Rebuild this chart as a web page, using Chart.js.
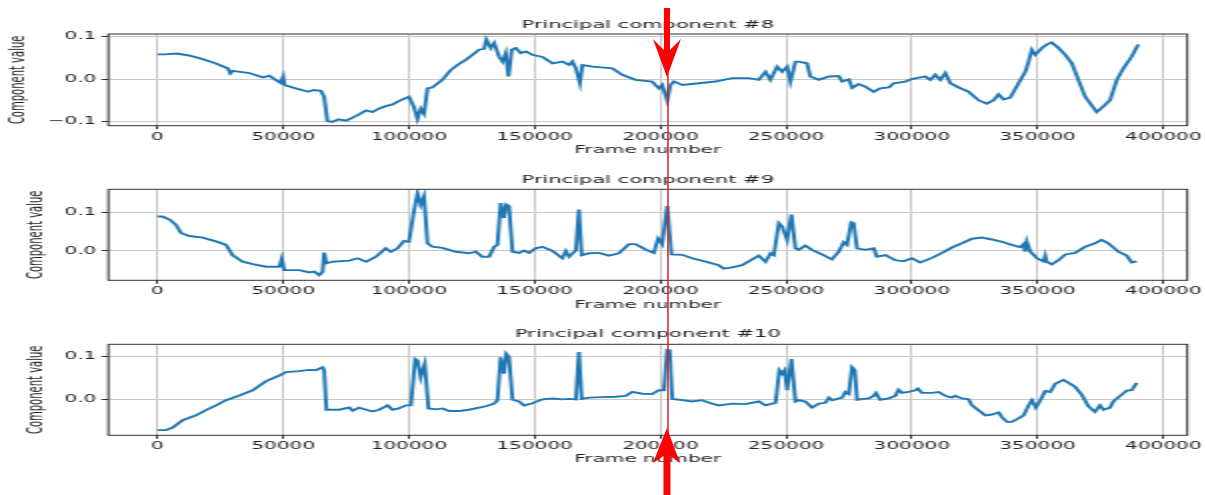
<!DOCTYPE html>
<html>
<head>
<meta charset="utf-8">
<script src="https://cdn.jsdelivr.net/npm/chart.js@4/dist/chart.umd.min.js"></script>
<style>
html,body{margin:0;padding:0;background:#fff;overflow:hidden;width:1205px;height:495px;}
#stage{position:absolute;left:0;top:0;width:603px;height:495px;transform:scaleX(2);transform-origin:0 0;}
#stage canvas{position:absolute;left:0;top:0;}
#overlay{position:absolute;left:0;top:0;pointer-events:none;}
</style>
</head>
<body>
<div id="stage">
  <canvas id="c8" width="603" height="495"></canvas>
  <canvas id="c9" width="603" height="495"></canvas>
  <canvas id="c10" width="603" height="495"></canvas>
</div>
<canvas id="overlay" width="1205" height="495"></canvas>
<script>
// ---------------- data ----------------
const titles = ['Principal component #8', 'Principal component #9', 'Principal component #10'];
const xTitle = 'Frame number';
const yTitle = 'Component value';
const xTicks = [0, 50000, 100000, 150000, 200000, 250000, 300000, 350000, 400000];
const yTicks8 = [-0.1, 0.0, 0.1];
const yTicks9 = [0.0, 0.1];
const yTicks10 = [0.0, 0.1];
const markFrame = 203000;

const frames8 = [0,3000,7500,12000,16700,23000,28000,29000,30000,36500,42000,44500,47000,49000,50000,50500,55000,60000,62000,65000,66300,67600,69500,72000,75000,77600,80000,83000,85500,88000,90800,93500,96000,100000,102000,103400,104700,106000,107400,109300,113300,116600,119300,122600,125300,127900,129900,130800,132600,133900,135800,137200,138500,139600,140900,142500,144500,146500,149100,153100,157100,161000,163700,165000,166400,168000,169000,173000,180900,184800,190100,196700,199400,200700,202700,204000,205400,208700,215300,221900,228500,235200,239100,241800,243700,246400,248400,250400,251700,253700,255000,258300,259600,263000,265000,267000,270900,272300,274900,276300,278800,281500,284800,287400,290800,292800,297400,300000,305300,307300,309300,311300,313300,315300,318600,322500,326500,329800,332500,334500,336400,339100,342400,345100,346400,347700,349000,351700,353600,355600,358300,361000,363600,366200,368900,371500,373500,376200,378800,381500,384100,387400,390000];
const pc8 = [0.058,0.058,0.060,0.056,0.049,0.037,0.025,0.013,0.019,0.014,0.004,0.008,-0.002,-0.009,0.006,-0.014,-0.022,-0.030,-0.026,-0.028,-0.042,-0.099,-0.101,-0.095,-0.098,-0.091,-0.084,-0.074,-0.078,-0.070,-0.064,-0.060,-0.052,-0.042,-0.066,-0.094,-0.070,-0.082,-0.022,-0.020,-0.002,0.021,0.033,0.045,0.057,0.069,0.071,0.093,0.073,0.085,0.053,0.041,0.061,0.006,0.069,0.073,0.061,0.065,0.057,0.052,0.037,0.041,0.033,0.041,0.025,-0.010,0.033,0.029,0.025,0.010,-0.002,-0.006,-0.022,-0.014,-0.050,-0.014,-0.006,-0.014,-0.010,-0.006,0.002,0.002,-0.002,0.017,-0.002,0.029,0.017,0.029,-0.006,0.041,0.041,0.037,0.006,-0.002,0.002,0.006,0.007,-0.006,-0.001,-0.021,-0.012,-0.018,-0.030,-0.022,-0.020,-0.010,-0.006,0.000,0.006,-0.002,0.010,-0.002,0.014,-0.010,-0.020,-0.030,-0.050,-0.058,-0.050,-0.036,-0.048,-0.044,-0.010,0.017,0.041,0.069,0.057,0.073,0.081,0.086,0.073,0.057,0.037,-0.002,-0.042,-0.062,-0.078,-0.064,-0.050,-0.002,0.025,0.053,0.081];

const frames9 = [0,2000,4800,7400,9400,12700,18000,23300,27300,29900,33900,37900,43200,48500,49500,50400,56400,60400,62400,64300,65700,66300,67200,69600,76300,79600,83000,86900,90800,92800,95500,98000,100000,102000,103400,104700,106000,107400,109400,113300,118600,123900,126600,129200,131900,133900,135200,136500,137800,138700,139800,141200,143800,145800,147800,150400,153100,157100,161000,162400,163700,166400,167600,168700,171600,175600,179500,183500,187500,190100,194100,197400,199100,200700,202700,204400,208700,212600,218000,223200,225200,228500,232500,236500,239100,241800,243800,245100,247100,248400,250400,252100,253700,255000,257600,260300,264300,268200,270900,272900,274200,275900,276800,278200,281500,284800,286100,289500,293400,296700,300000,303300,308000,312000,315900,319900,323900,327800,331800,335800,339700,343100,344400,345000,345700,347100,349700,352300,353000,353600,355600,358300,361000,364900,368900,372800,375400,378100,382100,385400,387400,389400];
const pc9 = [0.090,0.090,0.082,0.068,0.047,0.039,0.035,0.025,0.016,-0.011,-0.028,-0.034,-0.041,-0.041,-0.019,-0.050,-0.050,-0.056,-0.054,-0.063,-0.054,-0.004,-0.032,-0.028,-0.025,-0.019,-0.028,-0.015,0.007,-0.002,0.007,0.026,0.024,0.103,0.150,0.121,0.143,0.020,0.011,0.008,-0.002,-0.006,-0.002,-0.015,-0.015,0.011,0.016,0.125,0.086,0.121,0.117,-0.002,-0.005,0.001,-0.005,0.007,0.011,0.000,-0.019,0.000,-0.015,0.002,0.108,-0.011,-0.006,-0.005,-0.012,-0.006,0.018,0.018,0.004,-0.005,0.033,0.018,0.117,-0.009,-0.010,-0.019,-0.028,-0.037,-0.046,-0.043,-0.037,-0.022,-0.012,-0.028,-0.006,-0.011,0.073,0.064,0.029,0.095,0.007,0.003,0.014,0.003,-0.009,-0.022,-0.002,0.023,0.016,0.075,0.073,0.007,0.003,0.007,-0.015,-0.011,-0.024,-0.027,-0.019,-0.030,-0.018,-0.005,0.009,0.020,0.032,0.035,0.030,0.024,0.016,0.010,0.018,-0.002,0.024,-0.002,-0.019,-0.027,-0.012,-0.028,-0.035,-0.024,-0.009,-0.005,0.011,0.020,0.029,0.020,-0.002,-0.012,-0.030,-0.027];

const frames10 = [0,3400,6100,10000,15400,19300,23300,27300,32600,37900,43200,48500,51100,56400,60400,63000,65700,66300,67200,72300,76300,77600,80200,83000,85500,88200,91500,93500,96000,98800,100800,102500,103400,104700,105400,106300,107800,110700,113300,116000,120000,123900,127900,130600,133900,135200,136500,137800,138700,139800,141200,143800,145800,149100,153100,157100,161000,163700,166400,167600,168700,171600,176900,182200,186200,188800,192800,196700,199400,201400,202700,203700,204700,208700,212600,216600,220600,223200,228500,233800,239100,241800,244400,245800,247300,248400,249400,250400,252100,253700,255000,257600,260300,263000,265600,267000,268300,272300,273500,274900,276200,277300,278200,282800,284800,285700,287400,290800,293400,294700,296100,298700,301400,302400,304000,308000,310600,313300,315900,317200,319900,322500,323900,326500,329200,331800,334500,335800,337800,339700,342400,344400,346400,347700,349300,351100,353000,355000,357000,360300,362300,364900,367500,370200,372800,374800,376200,378800,380100,382800,385400,387400,389400];
const pc10 = [-0.071,-0.071,-0.065,-0.048,-0.037,-0.025,-0.014,-0.002,0.009,0.021,0.042,0.055,0.063,0.065,0.068,0.067,0.074,0.067,-0.024,-0.024,-0.019,-0.026,-0.019,-0.024,-0.028,-0.024,-0.014,-0.024,-0.021,-0.014,-0.014,0.093,0.090,0.051,0.066,0.082,-0.021,-0.023,-0.021,-0.027,-0.027,-0.024,-0.019,-0.016,-0.010,-0.002,0.097,0.059,0.105,0.097,-0.001,-0.005,-0.014,-0.009,0.000,0.002,0.000,0.001,0.000,0.109,0.001,0.004,0.005,0.006,0.008,0.017,0.013,0.012,0.021,0.021,0.114,0.113,0.001,-0.002,-0.005,-0.002,-0.010,-0.014,-0.010,-0.011,-0.005,-0.014,-0.010,-0.008,0.067,0.059,0.067,0.021,0.093,-0.005,-0.002,-0.005,-0.019,-0.010,-0.008,0.004,-0.002,0.004,0.017,0.012,0.074,0.067,-0.001,0.002,0.008,0.015,-0.001,0.002,0.008,0.022,0.015,0.017,0.021,0.025,0.015,0.015,0.017,0.008,0.004,0.008,0.002,0.000,-0.014,-0.025,-0.037,-0.035,-0.030,-0.041,-0.052,-0.052,-0.044,-0.037,-0.014,-0.002,-0.019,-0.002,0.019,0.017,0.036,0.045,0.038,0.029,0.011,-0.016,-0.029,-0.014,-0.024,-0.019,-0.005,0.008,0.020,0.021,0.038];

// ---------------- rendering ----------------
const STRETCH = 2;          // horizontal stretch of the figure
const X_MIN = -19500, X_MAX = 409500;
Chart.defaults.font.family = "'DejaVu Sans', sans-serif";
Chart.defaults.font.size = 10;
Chart.defaults.color = '#222';

const framePlugin = {
  id: 'frame',
  afterDatasetsDraw(chart) {
    const {ctx, chartArea: a} = chart;
    ctx.save();
    ctx.strokeStyle = '#333';
    ctx.lineWidth = 1;
    ctx.strokeRect(a.left, a.top, a.right - a.left, a.bottom - a.top);
    ctx.restore();
  }
};

function fmtY(v) {
  const s = Math.abs(v).toFixed(1);
  return (v < -1e-9 ? '\u2212' : '') + s;
}

function makeChart(id, frames, values, title, yTicks, yMin, yMax, lay) {
  const pts = frames.map((f, i) => ({x: f, y: values[i]}));
  return new Chart(document.getElementById(id), {
    type: 'line',
    data: {datasets: [{data: pts, borderColor: '#1f77b4', borderWidth: 1.9, pointRadius: 0, tension: 0, fill: false}]},
    options: {
      responsive: false, animation: false, devicePixelRatio: 1, events: [],
      layout: {padding: {top: lay.padTop, bottom: lay.padBottom, left: 0, right: 8.3}},
      plugins: {
        legend: {display: false}, tooltip: {enabled: false},
        title: {display: true, text: title, fullSize: false, color: '#222',
                font: {size: 10.5, weight: 'normal'}, padding: {top: 0, bottom: lay.titleGap}}
      },
      scales: {
        x: {
          type: 'linear', min: X_MIN, max: X_MAX,
          afterBuildTicks: s => { s.ticks = xTicks.map(v => ({value: v})); },
          afterFit: s => { s.height = lay.xH; },
          ticks: {callback: v => String(v), padding: 2, maxRotation: 0, autoSkip: false, color: '#222'},
          grid: {color: '#c8c8c8', lineWidth: 1, drawTicks: true, tickLength: 3.5, tickColor: '#333', tickWidth: 1},
          border: {display: false},
          title: {display: true, text: xTitle, color: '#222', font: {size: 10}, padding: {top: 0, bottom: 0}}
        },
        y: {
          min: yMin, max: yMax,
          afterBuildTicks: s => { s.ticks = yTicks.map(v => ({value: v})); },
          afterFit: s => { s.width = 54.2; },
          ticks: {callback: v => fmtY(v), padding: 2.5, color: '#222'},
          grid: {color: '#c8c8c8', lineWidth: 1, drawTicks: true, tickLength: 3.5, tickColor: '#333', tickWidth: 1},
          border: {display: false},
          title: {display: true, text: yTitle, color: '#222', font: {size: 10}, padding: {top: lay.yTitlePad, bottom: 0}}
        }
      }
    },
    plugins: [framePlugin]
  });
}

const ch8 = makeChart('c8', frames8, pc8, titles[0], yTicks8, -0.110, 0.106,
  {padTop: 19.0, titleGap: 2.4, xH: 30.3, padBottom: 339, yTitlePad: 3.75});
const ch9 = makeChart('c9', frames9, pc9, titles[1], yTicks9, -0.0765, 0.161,
  {padTop: 173.8, titleGap: 2.9, xH: 30.7, padBottom: 184, yTitlePad: 12.75});
const ch10 = makeChart('c10', frames10, pc10, titles[2], yTicks10, -0.083, 0.127,
  {padTop: 327.8, titleGap: 3.9, xH: 30.2, padBottom: 29.5, yTitlePad: 12.75});

// ---------------- red marker (annotation) ----------------
(function drawMarker() {
  const ctx = document.getElementById('overlay').getContext('2d');
  const lx = ch8.scales.x.getPixelForValue(markFrame) * STRETCH;
  const ax = lx - 1;
  ctx.strokeStyle = '#d42020';
  ctx.lineWidth = 1.5;
  ctx.beginPath();
  ctx.moveTo(lx, 60);
  ctx.lineTo(lx, 440);
  ctx.stroke();
  ctx.fillStyle = '#ff0000';
  // top arrow (pointing down)
  ctx.beginPath();
  ctx.moveTo(ax - 3, 8);
  ctx.lineTo(ax - 3, 50);
  ctx.lineTo(ax - 14, 39);
  ctx.lineTo(ax, 77);
  ctx.lineTo(ax + 14, 39);
  ctx.lineTo(ax + 3, 50);
  ctx.lineTo(ax + 3, 8);
  ctx.closePath();
  ctx.fill();
  // bottom arrow (pointing up)
  ctx.beginPath();
  ctx.moveTo(ax - 3.5, 495);
  ctx.lineTo(ax - 3.5, 456);
  ctx.lineTo(ax - 14, 463);
  ctx.lineTo(ax, 428);
  ctx.lineTo(ax + 13, 463);
  ctx.lineTo(ax + 3.5, 456);
  ctx.lineTo(ax + 3.5, 495);
  ctx.closePath();
  ctx.fill();
})();
</script>
</body>
</html>
